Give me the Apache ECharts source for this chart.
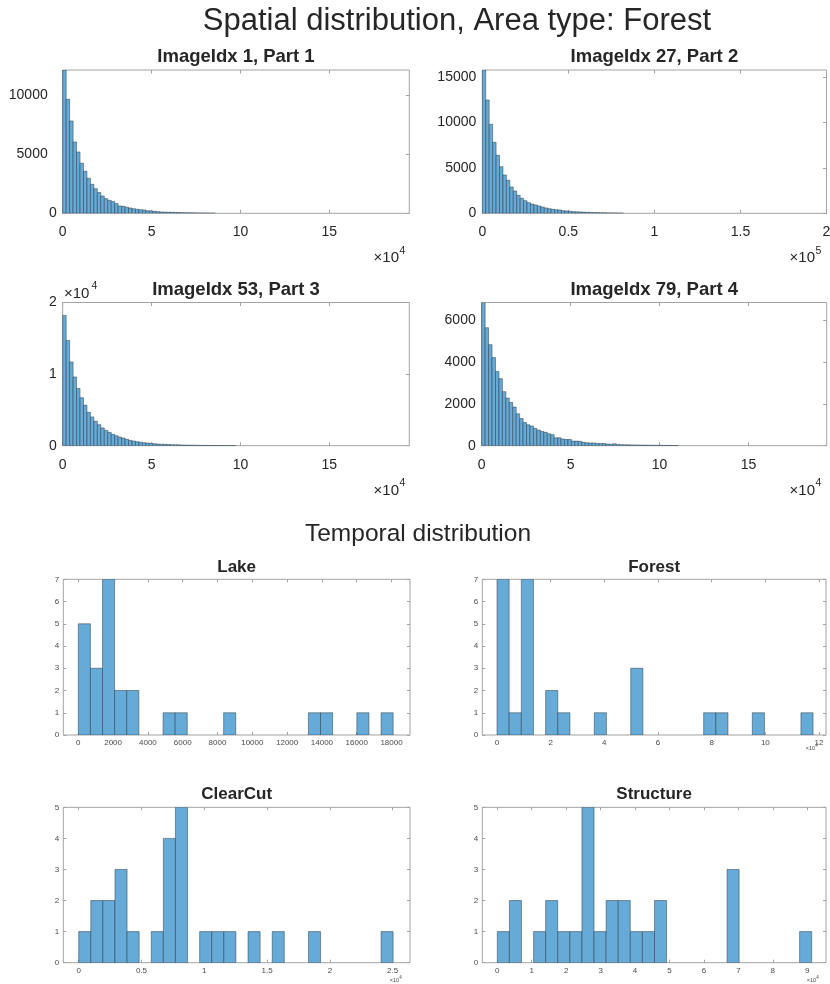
<!DOCTYPE html>
<html>
<head>
<meta charset="utf-8">
<script src="https://cdn.jsdelivr.net/npm/echarts@6/dist/echarts.min.js"></script>
<style>
html, body { margin: 0; padding: 0; background: #ffffff; }
#chart { width: 830px; height: 984px; }
</style>
</head>
<body>
<div id="chart"></div>
<script>
// ---------- Spatial distribution: counts per bin (bins start at 0) ----------
const spatial1BinWidth = 1950;
const spatial1Counts = [12100, 9630, 7800, 6030, 5180, 4230, 3550, 2960, 2450, 2080, 1750, 1460, 1240, 1100, 990, 820,
  620, 590, 510, 450, 390, 340, 310, 280, 220, 200, 170, 140, 115, 100, 92, 84, 73, 64, 55, 47, 41, 36, 31, 27, 23,
  20, 17, 15];

const spatial2BinWidth = 2000;
const spatial2Counts = [15750, 12450, 9780, 7800, 6370, 5130, 4210, 3630, 2890, 2450, 1980, 1650, 1390, 1170, 1030, 920,
  810, 700, 590, 510, 440, 400, 370, 290, 260, 220, 180, 160, 150, 130, 110, 95, 82, 70, 60, 52, 45, 39, 33, 28, 24];

const spatial3BinWidth = 1950;
const spatial3Counts = [18200, 14700, 11700, 9600, 8000, 6700, 5650, 4670, 4020, 3410, 2940, 2480, 2150, 1870, 1590, 1400,
  1210, 1070, 890, 750, 650, 560, 490, 420, 370, 330, 280, 230, 210, 190, 170, 150, 130, 120, 100, 90, 80, 70, 60, 50,
  45, 40, 34, 29, 25, 21, 18, 15, 12, 10];

const spatial4BinWidth = 1940;
const spatial4Counts = [6860, 5650, 4840, 4220, 3560, 3210, 2590, 2280, 2070, 1850, 1530, 1300, 1110, 1000, 940, 830,
  750, 680, 640, 570, 530, 380, 380, 320, 300, 300, 220, 220, 210, 160, 140, 130, 130, 110, 110, 100, 80, 70, 90, 60,
  50, 45, 40, 38, 35, 32, 30, 28, 25, 22, 20, 18, 16, 14, 12, 10, 9];

// ---------- Temporal distribution: counts per bin (bins start at 0) ----------
const lakeBinWidth = 696;
const lakeCounts = [5, 3, 7, 2, 2, 0, 0, 1, 1, 0, 0, 0, 1, 0, 0, 0, 0, 0, 0, 1, 1, 0, 0, 1, 0, 1];

const forestBinWidth = 4530;
const forestCounts = [7, 1, 7, 0, 2, 1, 0, 0, 1, 0, 0, 3, 0, 0, 0, 0, 0, 1, 1, 0, 0, 1, 0, 0, 0, 1];

const clearCutBinWidth = 963;
const clearCutCounts = [1, 2, 2, 3, 1, 0, 1, 4, 5, 0, 1, 1, 1, 0, 1, 0, 1, 0, 0, 1, 0, 0, 0, 0, 0, 1];

const structureBinWidth = 3511;
const structureCounts = [1, 2, 0, 1, 2, 1, 1, 5, 1, 2, 2, 1, 1, 2, 0, 0, 0, 0, 0, 3, 0, 0, 0, 0, 0, 1];

// ---------- Tick values ----------
const spatialXTicks = [0, 50000, 100000, 150000];
const spatial2XTicks = [0, 50000, 100000, 150000, 200000];
const spatial1YTicks = [0, 5000, 10000];
const spatial2YTicks = [0, 5000, 10000, 15000];
const spatial3YTicks = [0, 10000, 20000];
const spatial4YTicks = [0, 2000, 4000, 6000];
const lakeXTicks = [0, 2000, 4000, 6000, 8000, 10000, 12000, 14000, 16000, 18000];
const forestXTicks = [0, 20000, 40000, 60000, 80000, 100000, 120000];
const clearCutXTicks = [0, 5000, 10000, 15000, 20000, 25000];
const structureXTicks = [0, 10000, 20000, 30000, 40000, 50000, 60000, 70000, 80000, 90000];
const count7Ticks = [0, 1, 2, 3, 4, 5, 6, 7];
const count5Ticks = [0, 1, 2, 3, 4, 5];

// ---------- Styles ----------
const FONT = "'Liberation Sans', Arial, Helvetica, sans-serif";
const TEXT = '#262626';
const SMALL_TEXT = '#4a4a4a';
const BOX = '#a3a3a3';
const BAR_FILL = '#66aad7';
const BAR_EDGE = 'rgba(38, 50, 64, 0.8)';

const big = { fs: 14, xMargin: 12, yMargin: 6, tickLen: 3.5, color: TEXT, titleSize: 18.5 };
const small = { fs: 8, xMargin: 4, yMargin: 4, tickLen: 3, color: SMALL_TEXT, titleSize: 17 };

const panels = [
  { title: 'ImageIdx 1, Part 1', counts: spatial1Counts, binWidth: spatial1BinWidth,
    box: [62.7, 70, 346.6, 143.3], xMin: 0, xMax: 195000, yMax: 12100,
    xTicks: spatialXTicks, xScale: 1e4, yTicks: spatial1YTicks, yScale: 1, s: big, titleDy: 13,
    yLabelShift: true },
  { title: 'ImageIdx 27, Part 2', counts: spatial2Counts, binWidth: spatial2BinWidth,
    box: [482.3, 70, 344.2, 143.3], xMin: 0, xMax: 200000, yMax: 15750,
    xTicks: spatial2XTicks, xScale: 1e5, yTicks: spatial2YTicks, yScale: 1, s: big, titleDy: 13 },
  { title: 'ImageIdx 53, Part 3', counts: spatial3Counts, binWidth: spatial3BinWidth,
    box: [62.7, 302.5, 346.6, 143.2], xMin: 0, xMax: 195000, yMax: 20000,
    xTicks: spatialXTicks, xScale: 1e4, yTicks: spatial3YTicks, yScale: 1e4, s: big, titleDy: 13 },
  { title: 'ImageIdx 79, Part 4', counts: spatial4Counts, binWidth: spatial4BinWidth,
    box: [481.7, 302.5, 345, 143.2], xMin: 0, xMax: 194000, yMax: 6860,
    xTicks: spatialXTicks, xScale: 1e4, yTicks: spatial4YTicks, yScale: 1, s: big, titleDy: 13 },
  { title: 'Lake', counts: lakeCounts, binWidth: lakeBinWidth,
    box: [63.3, 579.3, 346.7, 155.7], xMin: -862, xMax: 19063, yMax: 7,
    xTicks: lakeXTicks, xScale: 1, yTicks: count7Ticks, yScale: 1, s: small, titleDy: 11.5 },
  { title: 'Forest', counts: forestCounts, binWidth: forestBinWidth,
    box: [482.3, 579.3, 343.7, 155.7], xMin: -5480, xMax: 122600, yMax: 7,
    xTicks: forestXTicks, xScale: 1e4, yTicks: count7Ticks, yScale: 1, s: small, titleDy: 11.5 },
  { title: 'ClearCut', counts: clearCutCounts, binWidth: clearCutBinWidth,
    box: [63.3, 807.3, 346.7, 155.4], xMin: -1226, xMax: 26380, yMax: 5,
    xTicks: clearCutXTicks, xScale: 1e4, yTicks: count5Ticks, yScale: 1, s: small, titleDy: 12.5 },
  { title: 'Structure', counts: structureCounts, binWidth: structureBinWidth,
    box: [482.3, 807.3, 343.7, 155.4], xMin: -4355, xMax: 95440, yMax: 5,
    xTicks: structureXTicks, xScale: 1e4, yTicks: count5Ticks, yScale: 1, s: small, titleDy: 12.5 }
];

const fmt = v => String(parseFloat(v.toFixed(3)));

function renderBin(params, api) {
  const a = api.coord([api.value(0), 0]);
  const b = api.coord([api.value(1), api.value(2)]);
  return {
    type: 'rect',
    shape: { x: a[0], y: b[1], width: b[0] - a[0], height: a[1] - b[1] },
    style: { fill: BAR_FILL, stroke: BAR_EDGE, lineWidth: 0.6 }
  };
}

function txt(text, x, y, size, opts) {
  opts = opts || {};
  return {
    type: 'text', x: x, y: y, silent: true,
    style: {
      text: text, fill: opts.color || TEXT,
      font: (opts.bold ? 'bold ' : '') + size + 'px ' + FONT,
      align: opts.align || 'center', verticalAlign: 'middle'
    }
  };
}

const option = {
  animation: false,
  backgroundColor: '#ffffff',
  grid: [], xAxis: [], yAxis: [], series: [],
  graphic: [
    txt('Spatial distribution, Area type: Forest', 457, 21, 31),
    txt('Temporal distribution', 418, 534, 24.5)
  ]
};

panels.forEach((p, i) => {
  const s = p.s;
  const [left, top, width, height] = p.box;
  option.grid.push({
    left: left, top: top, width: width, height: height,
    show: true, borderColor: BOX, borderWidth: 1, backgroundColor: 'transparent',
    containLabel: false, outerBoundsMode: 'none'
  });
  const tick = (vals) => ({ show: true, inside: true, length: s.tickLen, customValues: vals,
    lineStyle: { color: BOX, width: 1 } });
  const noLine = { show: false, onZero: false };
  // bottom / left axes carry the labels, top / right mirror the ticks
  option.xAxis.push({
    gridIndex: i, type: 'value', position: 'bottom', min: p.xMin, max: p.xMax,
    axisLine: noLine, splitLine: { show: false }, axisTick: tick(p.xTicks),
    axisLabel: { customValues: p.xTicks, formatter: v => fmt(v / p.xScale), fontSize: s.fs,
      fontFamily: FONT, color: s.color, margin: s.xMargin }
  });
  option.xAxis.push({
    gridIndex: i, type: 'value', position: 'top', min: p.xMin, max: p.xMax,
    axisLine: noLine, splitLine: { show: false }, axisTick: tick(p.xTicks),
    axisLabel: { show: false }
  });
  option.yAxis.push({
    gridIndex: i, type: 'value', position: 'left', min: 0, max: p.yMax,
    axisLine: noLine, splitLine: { show: false }, axisTick: tick(p.yTicks),
    axisLabel: {
      customValues: p.yTicks,
      formatter: v => {
        const t = fmt(v / p.yScale);
        return (p.yLabelShift && v > 0) ? '{w|' + t + '}' : t;
      },
      rich: { w: { fontSize: s.fs, fontFamily: FONT, color: s.color, padding: [0, 9, 0, 0] } },
      fontSize: s.fs, fontFamily: FONT, color: s.color, margin: s.yMargin
    }
  });
  option.yAxis.push({
    gridIndex: i, type: 'value', position: 'right', min: 0, max: p.yMax,
    axisLine: noLine, splitLine: { show: false }, axisTick: tick(p.yTicks),
    axisLabel: { show: false }
  });
  const bins = [];
  p.counts.forEach((c, k) => {
    if (c > 0) bins.push([k * p.binWidth, (k + 1) * p.binWidth, c]);
  });
  option.series.push({
    type: 'custom', name: p.title, xAxisIndex: 2 * i, yAxisIndex: 2 * i,
    clip: true, silent: true, renderItem: renderBin, data: bins,
    encode: { x: [0, 1], y: 2 }
  });
  option.graphic.push(txt(p.title, left + width / 2, top - p.titleDy, s.titleSize, { bold: true }));
});

// axis exponent labels
[
  [399, 258, 251, '4'], [815, 258, 251, '5'], [399, 490.5, 483.5, '4'], [815, 490.5, 483.5, '4']
].forEach(([x, y, ye, e]) => {
  option.graphic.push(txt('×10', x, y, 15, { align: 'right' }));
  option.graphic.push(txt(e, x + 0.5, ye, 10.5, { align: 'left' }));
});
option.graphic.push(txt('×10', 64, 293.5, 15, { align: 'left' }));
option.graphic.push(txt('4', 91.5, 286.5, 10.5, { align: 'left' }));
[[815, 748.5], [399, 980.5], [816, 980.5]].forEach(([x, y]) => {
  option.graphic.push(txt('×10', x, y, 5.5, { align: 'right', color: SMALL_TEXT }));
  option.graphic.push(txt('4', x + 0.3, y - 2.5, 4.5, { align: 'left', color: SMALL_TEXT }));
});

const chart = echarts.init(document.getElementById('chart'), null, { renderer: 'canvas' });
chart.setOption(option);
</script>
</body>
</html>
